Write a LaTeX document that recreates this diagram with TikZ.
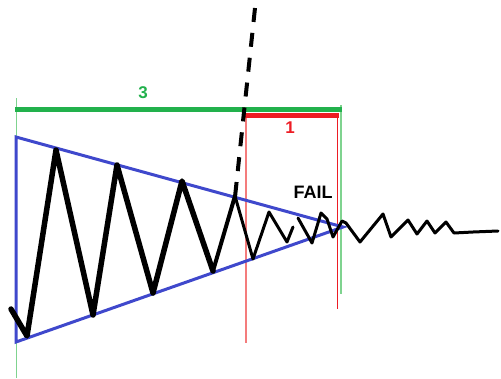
\documentclass[tikz,border=0pt]{standalone}
\usepackage{fontspec}
\setmainfont{Liberation Sans}
\definecolor{pgreen}{HTML}{22B14C}
\definecolor{lgreen}{HTML}{7FD38F}
\definecolor{pred}{HTML}{ED1C24}
\definecolor{lred}{HTML}{F47C7C}
\definecolor{pblue}{HTML}{3F48CC}
\tikzset{
  guide/.style={line width=1.5pt},
  bar/.style={line width=5pt},
  wave/.style={black, line join=round, line cap=round},
  lbl/.style={font=\bfseries\fontsize{17}{17}\selectfont, inner sep=0pt}
}
\begin{document}
\begin{tikzpicture}[x=1pt,y=-1pt]
\useasboundingbox (0,0) rectangle (501,378);
% guide lines
\draw[guide, lgreen] (16.5,98) -- (16.5,378);
\draw[guide, lgreen] (341,105) -- (341,294);
\draw[line width=2pt, lred] (246,116) -- (246,343);
\draw[guide, pred] (337.5,116) -- (337.5,309);
% bars
\draw[bar, pgreen] (15,109.5) -- (342,109.5);
\draw[line width=4.5pt, pred] (245,115.5) -- (338.5,115.5);
% triangle
\draw[pblue, line width=3pt, line join=miter] (16,137) -- (343,227) -- (16,342) -- cycle;
% zigzag
\draw[wave, line width=5.5pt] (11,309) -- (27,336) -- (56,150) -- (93,315) -- (117,165) -- (153,293) -- (182,181) -- (213,271);
\draw[wave, line width=4pt] (213,271) -- (235,196);
\draw[wave, line width=3pt] (235,196) -- (253,259) -- (269,212) -- (287,242) -- (293,227);
\draw[wave, line width=3pt] (298,218) -- (312,243) -- (321,213) -- (327,219) -- (333,237) -- (342,221) -- (346,223) -- (360,242) -- (383,214) -- (391,237) -- (408,220) -- (417,234) -- (427,221) -- (435,233) -- (446,222) -- (454,233) -- (473,232) -- (498,231);
% dashed line
\draw[black, line width=4pt, dash pattern=on 14pt off 11pt] (255,8) -- (235,197);
% labels
\node[lbl, text=pgreen] (three) at (143,93) {3};
\node[lbl, text=pred] (one) at (290,128) {1};
\node[lbl, font=\bfseries\fontsize{18}{18}\selectfont, text=black] (fail) at (313,192.5) {FAIL};
\end{tikzpicture}
\end{document}
